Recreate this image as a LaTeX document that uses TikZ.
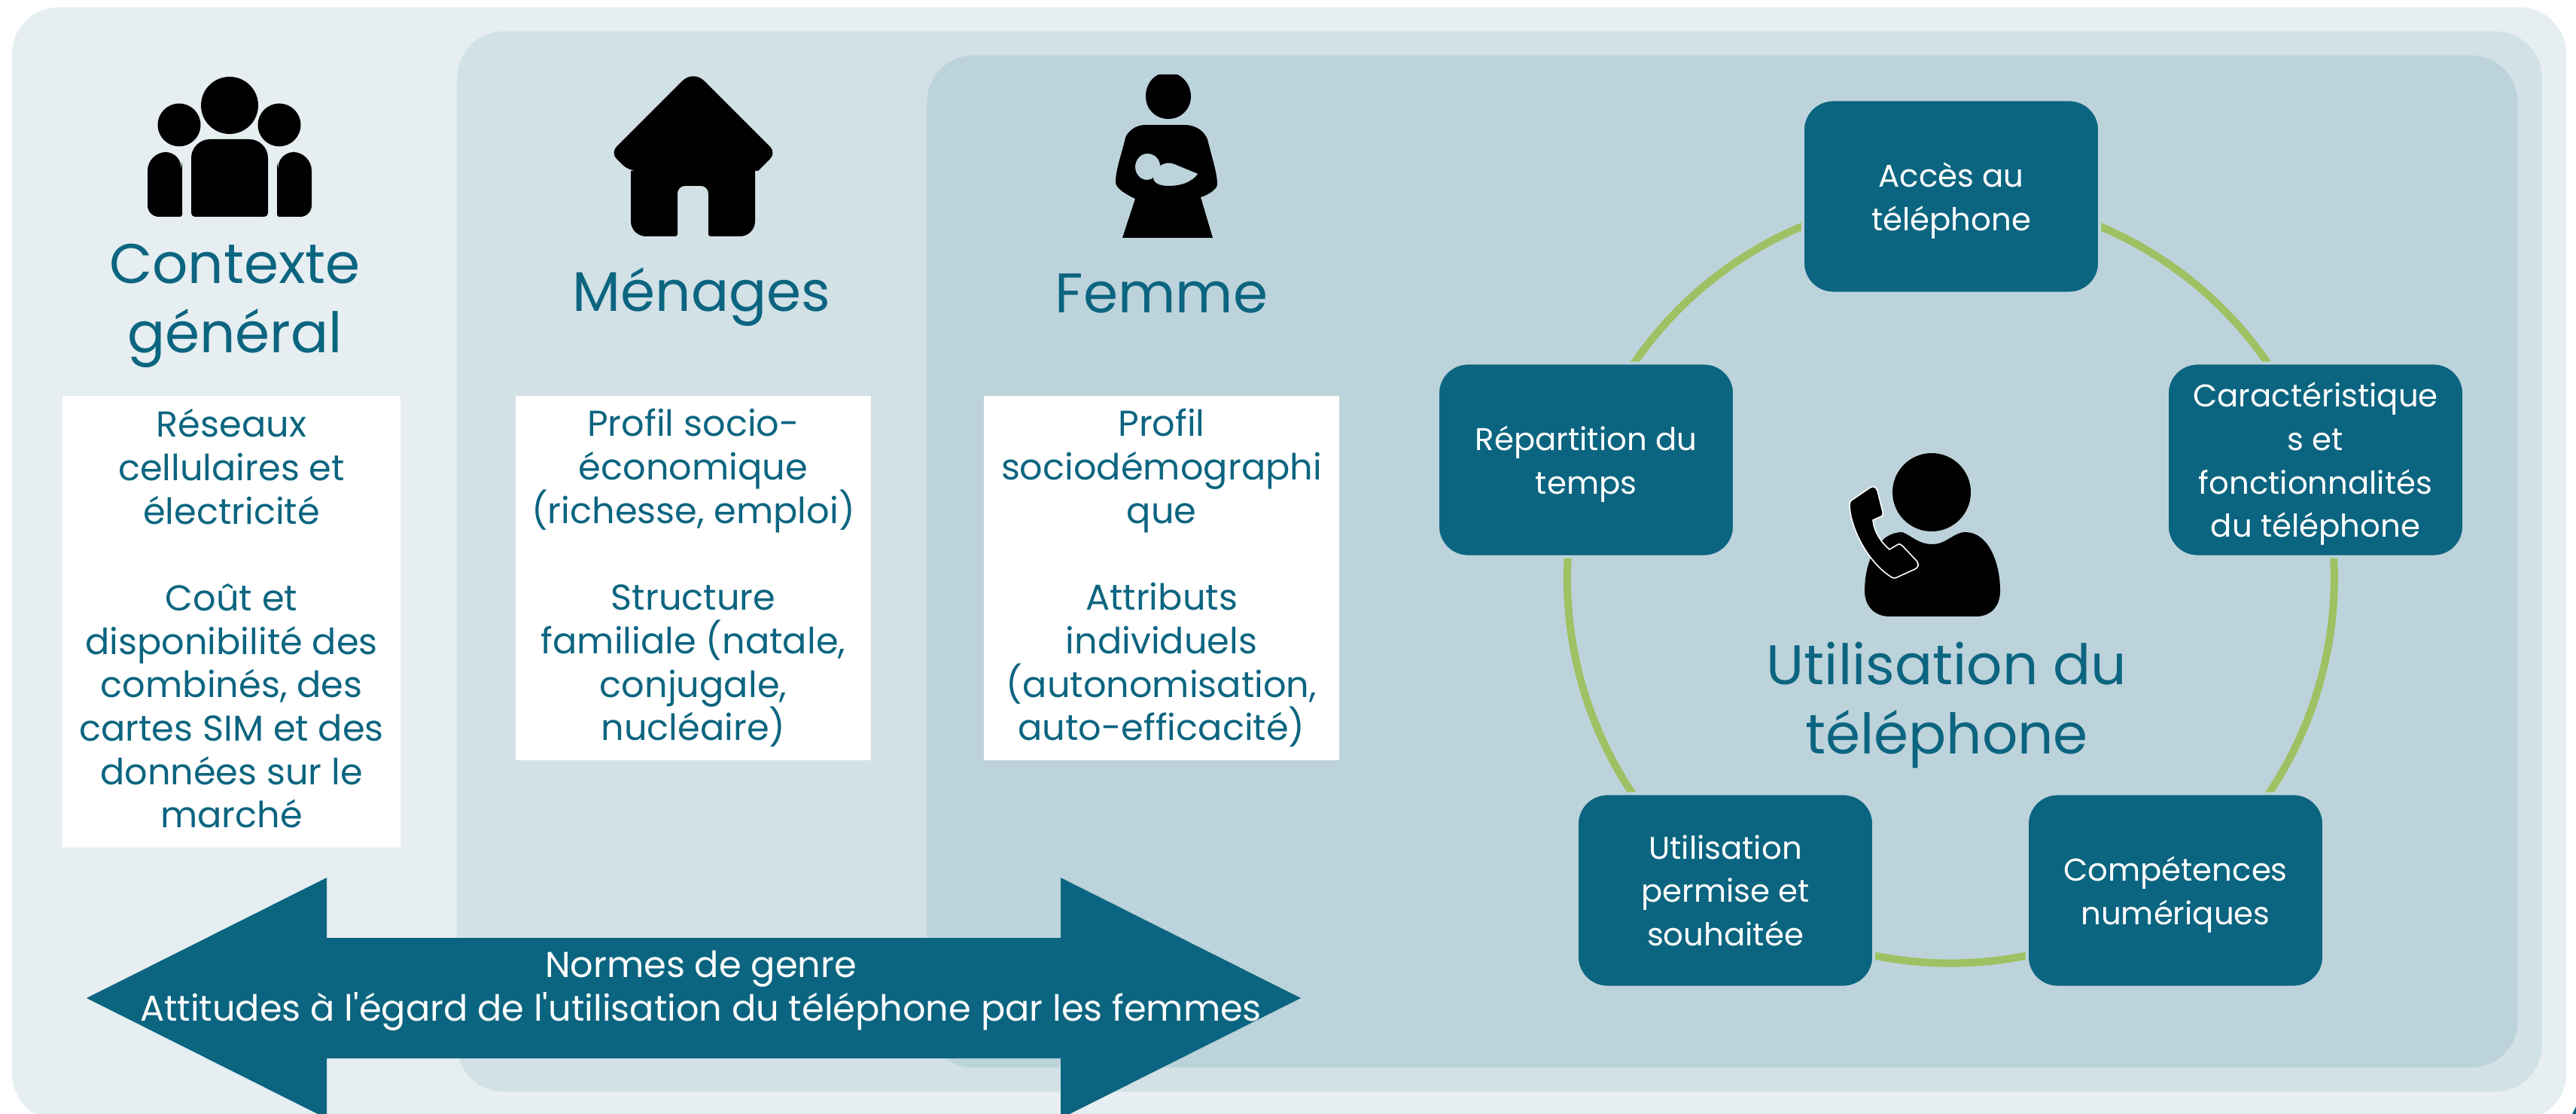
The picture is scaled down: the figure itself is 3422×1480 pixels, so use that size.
\documentclass[tikz,border=0pt]{standalone}
\usepackage{fontspec}
\setmainfont{Poppins}
\usetikzlibrary{backgrounds}
\definecolor{paleblue}{HTML}{E6EEF1}
\definecolor{midblue}{HTML}{D2E1E6}
\definecolor{deepblue}{HTML}{BDD3DB}
\definecolor{tealbox}{HTML}{0C6580}
\definecolor{ringgreen}{HTML}{9CC263}
\tikzset{
    panel/.style={rectangle, rounded corners=0.62cm, inner sep=0pt},
    whitebox/.style={rectangle, fill=white, inner sep=0pt, align=center, text=tealbox, font=\fontsize{13.6}{16.4}\selectfont},
    title/.style={align=center, inner sep=0pt, text=tealbox, font=\fontsize{21.1}{26.1}\selectfont},
    cyclebox/.style={rectangle, fill=tealbox, draw=deepblue, line width=0.04cm, rounded corners=0.4cm, minimum width=3.94cm, minimum height=2.57cm, inner sep=0pt, align=center, text=white, font=\fontsize{11.9}{16.4}\selectfont},
    ring/.style={draw=ringgreen, line width=0.1cm, bend left=36, looseness=0.94}
}
\begin{document}
\begin{tikzpicture}[x=0.01cm, y=-0.01cm]
    \useasboundingbox (0,0) rectangle (3422,1480);

    % Nested panels
    \begin{scope}[on background layer]
    \node[panel, fill=paleblue, minimum width=33.91cm, minimum height=14.78cm] (OUTER) at (1712.5,749) {};
    \node[panel, fill=midblue, minimum width=27.68cm, minimum height=14.08cm] (MIDDLE) at (1992,746) {};
    \node[panel, fill=deepblue, minimum width=21.12cm, minimum height=13.44cm] (INNER) at (2288,746) {};
    \end{scope}

    % Icon: group of people
    \fill (305,140) circle [radius=38];
    \fill (238,166) circle [radius=28.5];
    \fill (371,166) circle [radius=28.5];
    \fill [rounded corners=0.25cm] (254,240) -- (254,185) -- (356,185) -- (356,240) [rounded corners=0.05cm] -- (356,288) -- (254,288) -- cycle;
    \fill [rounded corners=0.25cm] (196,250) -- (196,202) -- (244,202) [sharp corners] -- (242,215) [rounded corners=0.03cm] -- (242,288) [rounded corners=0.15cm] -- (196,288) -- cycle;
    \fill [rounded corners=0.25cm] (414,250) -- (414,202) -- (366,202) [sharp corners] -- (368,215) [rounded corners=0.03cm] -- (368,288) [rounded corners=0.15cm] -- (414,288) -- cycle;

    % Icon: house
    \fill [rounded corners=0.11cm] (860,154) -- (811,203) -- (835,227) [sharp corners] -- (838,227) [rounded corners=0.2cm] -- (838,314) [rounded corners=0.03cm] -- (900,314) [rounded corners=0.1cm] -- (900,247) -- (941,247) [rounded corners=0.03cm] -- (941,314) [rounded corners=0.2cm] -- (1003,314) [sharp corners] -- (1003,227) -- (1007,227) [rounded corners=0.11cm] -- (1031,203) [rounded corners=0.2cm] -- (921,93) -- cycle;

    % Icon: woman holding a baby
    \fill (1539,99) -- (1564,99) .. controls (1575,104) and (1582,116) .. (1582,128) .. controls (1582,145) and (1569,158) .. (1552,158) .. controls (1535,158) and (1522,145) .. (1522,128) .. controls (1522,116) and (1528,104) .. (1539,99) -- cycle;
    \fill [even odd rule] (1521,166) -- (1573,166) .. controls (1590,166) and (1600,175) .. (1604,185) .. controls (1610,210) and (1617,230) .. (1617,245) .. controls (1617,250) and (1608,258) .. (1595,262) -- (1611,316) -- (1491,316) -- (1508,264) .. controls (1495,258) and (1482,250) .. (1482,242) .. controls (1482,225) and (1490,205) .. (1495,183) .. controls (1498,175) and (1508,166) .. (1521,166) -- cycle
        (1541,220) .. controls (1541,211) and (1533,204) .. (1524.5,204) .. controls (1515,204) and (1508,212) .. (1508,222) .. controls (1508,232) and (1516,240) .. (1525,239) .. controls (1528,239) and (1531,237) .. (1532,236) .. controls (1532,243) and (1540,247) .. (1552,247) .. controls (1568,247) and (1582,243) .. (1591.5,231) -- (1560,218) .. controls (1552,215) and (1546,217) .. (1541,220) -- cycle;

    % Icon: person on the phone
    \fill (2566,654) circle [radius=52];
    \fill (2527,707) .. controls (2540,712) and (2548,723) .. (2567,723) .. controls (2586,723) and (2595,707) .. (2611,707) .. controls (2640,707) and (2657,745) .. (2657,785) .. controls (2657,805) and (2645,819) .. (2625,819) -- (2510,819) .. controls (2490,819) and (2477,805) .. (2477,785) .. controls (2477,745) and (2495,707) .. (2527,707) -- cycle;
    \filldraw [fill=black, draw=white, line width=0.45pt] (2459,665) -- (2484,648) .. controls (2489,645) and (2492,647) .. (2494,652) -- (2501,680) .. controls (2502,684) and (2500,686) .. (2497,687) -- (2488,691) .. controls (2489,705) and (2498,720) .. (2510,730) -- (2520,724) .. controls (2523,722) and (2525,723) .. (2527,725) -- (2546,745) .. controls (2550,750) and (2548,754) .. (2544,756) -- (2520,767) .. controls (2516,769) and (2514,768) .. (2510,765) .. controls (2480,745) and (2458,700) .. (2457,672) .. controls (2457,669) and (2457,667) .. (2459,665) -- cycle;

    % Titles
    \node[title] (CTX) at (312,406) {Contexte\\général};
    \node[title] (MEN) at (932,395) {Ménages};
    \node[title] (FEM) at (1543,390) {Femme};
    \node[title] (USE) at (2586,937) {Utilisation du\\téléphone};

    % White text boxes
    \node[whitebox, minimum width=4.48cm, minimum height=6cm] (CTXBOX) at (307.5,826) {Réseaux\\cellulaires et\\électricité\\[16.4pt]Coût et\\disponibilité des\\combinés, des\\cartes SIM et des\\données sur le\\marché\rule[-2.5pt]{0pt}{0pt}};
    \node[whitebox, minimum width=4.72cm, minimum height=4.84cm] (MENBOX) at (921,768) {Profil socio-\\économique\\(richesse, emploi)\\[16.4pt]Structure\\familiale (natale,\\conjugale,\\nucléaire)};
    \node[whitebox, minimum width=4.72cm, minimum height=4.84cm] (FEMBOX) at (1543,768) {Profil\\sociodémographi\\que\\[16.4pt]Attributs\\individuels\\(autonomisation,\\auto-efficacité)};

    % Cycle boxes
    \node[cyclebox] (ACCES) at (2592,261) {Accès au\\\smash{téléphone}};
    \node[cyclebox] (CARAC) at (3076,611) {Caractéristique\\s et\\fonctionnalités\\\smash{du téléphone}};
    \node[cyclebox] (COMPET) at (2890,1183) {Compétences\\\smash{numériques}};
    \node[cyclebox] (PERMIS) at (2292,1183) {Utilisation\\permise et\\souhaitée};
    \node[cyclebox] (TEMPS) at (2107,611) {Répartition du\\\smash{temps}};

    % Cycle ring
    \begin{scope}[on background layer]
    \draw[ring] (ACCES.center) to (CARAC.center);
    \draw[ring] (CARAC.center) to (COMPET.center);
    \draw[ring] (COMPET.center) to (PERMIS.center);
    \draw[ring] (PERMIS.center) to (TEMPS.center);
    \draw[ring] (TEMPS.center) to (ACCES.center);
    \end{scope}

    % Gender norms arrow
    \fill[tealbox] (115,1326) -- (434,1166) -- (434,1246) -- (1409,1246) -- (1409,1166) -- (1728,1326) -- (1409,1486) -- (1409,1406) -- (434,1406) -- (434,1486) -- cycle;
    \node[align=center, inner sep=0pt, text=white, font=\fontsize{13.6}{16.4}\selectfont] (NORMS) at (931,1316) {Normes de genre\\Attitudes à l\textquotesingle égard de l\textquotesingle utilisation du téléphone par les femmes};

    % Corner sliver
    \fill[tealbox] (3417,1480) -- (3422,1470) -- (3422,1480) -- cycle;
\end{tikzpicture}
\end{document}
